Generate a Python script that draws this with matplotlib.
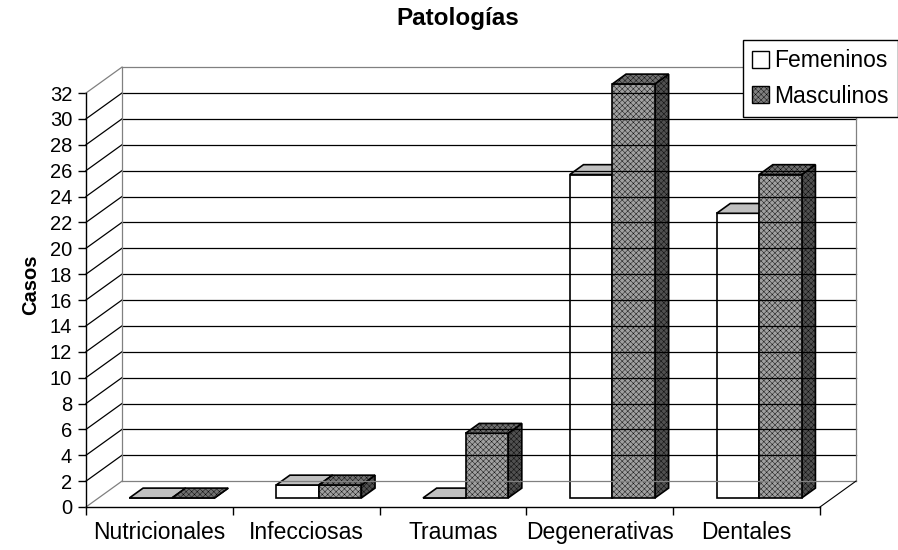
import matplotlib.pyplot as plt
from matplotlib.patches import Polygon, Patch

categories = ['Nutricionales', 'Infecciosas', 'Traumas', 'Degenerativas', 'Dentales']
femeninos = [0, 1, 0, 25, 22]
masculinos = [0, 1, 5, 32, 25]
series_names = ['Femeninos', 'Masculinos']
yticks = list(range(0, 33, 2))

plt.rcParams['font.family'] = ['Liberation Sans', 'DejaVu Sans']
plt.rcParams['hatch.linewidth'] = 0.3

W, H = 898, 550
fig = plt.figure(figsize=(W / 100, H / 100), dpi=100)
ax = fig.add_axes([86 / W, 43 / H, 734 / W, 414 / H])
ax.set_xlim(-0.5, len(categories) - 0.5)
ax.set_ylim(0, 32)

# oblique depth offset, in data units
DX, DY = 0.245, 2.0
xl, xr, ytop = -0.5, len(categories) - 0.5, 32


def proj(x, y, z):
    return (x + z * DX, y + z * DY)


def poly(pts, **kw):
    ax.add_patch(Polygon([proj(*p) for p in pts], closed=True, clip_on=False, **kw))


def line(p, q, **kw):
    a, b = proj(*p), proj(*q)
    ax.plot([a[0], b[0]], [a[1], b[1]], clip_on=False, **kw)


wall = '#808080'
# walls and floor
poly([(xl, 0, 0), (xl, ytop, 0), (xl, ytop, 1), (xl, 0, 1)], facecolor='white', edgecolor='none')
poly([(xl, 0, 1), (xr, 0, 1), (xr, ytop, 1), (xl, ytop, 1)], facecolor='white', edgecolor='none')
for v in yticks:
    c = wall if v in (0, ytop) else 'black'
    line((xl, v, 1), (xr, v, 1), color=c, lw=0.9)
    if v > 0:
        line((xl, v, 0), (xl, v, 1), color=c, lw=0.9)
line((xl, 0, 0), (xl, 0, 1), color=wall, lw=0.9)
line((xl, 0, 1), (xl, ytop, 1), color=wall, lw=0.9)
line((xr, 0, 1), (xr, ytop, 1), color=wall, lw=0.9)
line((xr, 0, 0), (xr, 0, 1), color='black', lw=0.8)

# bars
w = 0.29
z0, z1 = 0.35, 0.73
pat = 'xxxxxx'
styles = [
    dict(front=dict(facecolor='white'), top=dict(facecolor='#c0c0c0'), side=dict(facecolor='#a0a0a0')),
    dict(front=dict(facecolor='#a0a0a0', hatch=pat), top=dict(facecolor='#707070', hatch=pat),
         side=dict(facecolor='#505050', hatch=pat)),
]
for i in range(len(categories)):
    for s, vals in enumerate([femeninos, masculinos]):
        h = vals[i]
        xa = i - w + s * w
        xb = xa + w
        st = styles[s]
        poly([(xb, 0, z0), (xb, 0, z1), (xb, h, z1), (xb, h, z0)], edgecolor='black', lw=1.2, **st['side'])
        poly([(xa, 0, z0), (xb, 0, z0), (xb, h, z0), (xa, h, z0)], edgecolor='black', lw=1.2, **st['front'])
        poly([(xa, h, z0), (xb, h, z0), (xb, h, z1), (xa, h, z1)], edgecolor='black', lw=1.2, **st['top'])

# axes
for sp in ['top', 'right']:
    ax.spines[sp].set_visible(False)
ax.spines['left'].set_linewidth(1)
ax.spines['bottom'].set_linewidth(1)
ax.set_yticks(yticks)
ax.set_xticks([k - 0.5 for k in range(len(categories) + 1)])
ax.set_xticklabels([])
ax.set_xticks(range(len(categories)), minor=True)
ax.set_xticklabels(categories, minor=True)
ax.tick_params(axis='both', which='major', direction='out', length=6, width=1, labelsize=14.5, pad=4)
ax.tick_params(axis='x', which='minor', length=0, labelsize=16.5, pad=10)
ax.patch.set_visible(False)

fig.text(458 / W, 1 - 19 / H, 'Patologías', ha='center', va='center', fontsize=17.5, fontweight='bold')
fig.text(31 / W, 1 - 285 / H, 'Casos', ha='center', va='center', rotation=90, fontsize=14.5, fontweight='bold')

handles = [Patch(facecolor='white', edgecolor='black'),
           Patch(facecolor='#808080', edgecolor='black', hatch=pat)]
leg = fig.legend(handles, series_names, loc='upper left', bbox_to_anchor=(743 / W, 1 - 40 / H),
                 fontsize=16.5, frameon=True, fancybox=False, edgecolor='black', framealpha=1,
                 handlelength=0.75, handleheight=0.75, handletextpad=0.2, borderpad=0.4, labelspacing=0.55,
                 borderaxespad=0)
leg.get_frame().set_linewidth(1)

fig.savefig('out.png', dpi=100)
